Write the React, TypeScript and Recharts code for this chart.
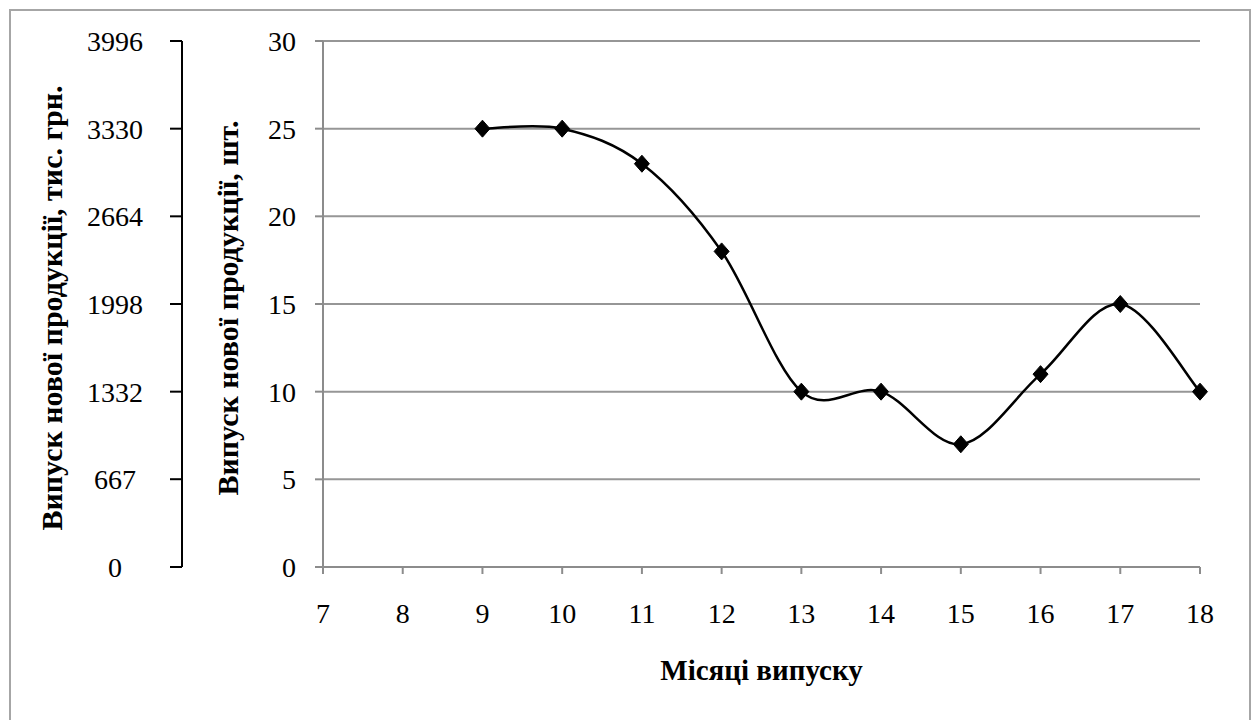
import React from 'react';
import { ComposedChart, Line, XAxis, YAxis, CartesianGrid } from 'recharts';

const months = [9, 10, 11, 12, 13, 14, 15, 16, 17, 18];
const units = [25, 25, 23, 18, 10, 10, 7, 11, 15, 10];
const xTicks = [7, 8, 9, 10, 11, 12, 13, 14, 15, 16, 17, 18];
const qtyTicks = [0, 5, 10, 15, 20, 25, 30];
const moneyTicks = [0, 667, 1332, 1998, 2664, 3330, 3996];
const xTitle = 'Місяці випуску';
const qtyTitle = 'Випуск нової продукції, шт.';
const moneyTitle = 'Випуск нової продукції, тис. грн.';

const data = months.map((m, i) => ({ month: m, units: units[i] }));

const FONT = '"Liberation Serif", "Times New Roman", serif';
const FS = 28;

// Excel-like smoothed line (cubic Bezier, 1/6 neighbour tangents)
function excelCurve(context: any) {
  let pts: number[][] = [];
  return {
    areaStart() {},
    areaEnd() {},
    lineStart() {
      pts = [];
    },
    point(x: number, y: number) {
      pts.push([+x, +y]);
    },
    lineEnd() {
      if (!pts.length) return;
      context.moveTo(pts[0][0], pts[0][1]);
      for (let i = 0; i < pts.length - 1; i++) {
        const p0 = pts[i - 1] || pts[i];
        const p1 = pts[i];
        const p2 = pts[i + 1];
        const p3 = pts[i + 2] || p2;
        context.bezierCurveTo(
          p1[0] + (p2[0] - p0[0]) / 6,
          p1[1] + (p2[1] - p0[1]) / 6,
          p2[0] - (p3[0] - p1[0]) / 6,
          p2[1] - (p3[1] - p1[1]) / 6,
          p2[0],
          p2[1]
        );
      }
    },
  };
}

const Diamond = (props: any) => {
  const { cx, cy, index } = props;
  if (cx == null || cy == null) return <g key={`d-${index}`} />;
  return (
    <path
      key={`d-${index}`}
      d={`M${cx},${cy - 8.5} L${cx + 7.5},${cy} L${cx},${cy + 8.5} L${cx - 7.5},${cy} Z`}
      fill="#000"
      stroke="#000"
      strokeWidth={1}
    />
  );
};

const XTick = (props: any) => {
  const { x, y, payload } = props;
  return (
    <text x={x} y={y} dy={20} textAnchor="middle" fontFamily={FONT} fontSize={FS} fill="#000">
      {payload.value}
    </text>
  );
};

const QtyTick = (props: any) => {
  const { x, y, payload } = props;
  return (
    <text x={x} y={y} dy={10} textAnchor="end" fontFamily={FONT} fontSize={FS} fill="#000">
      {payload.value}
    </text>
  );
};

const MoneyTick = (props: any) => {
  const { x, y, payload } = props;
  return (
    <text x={x} y={y} dy={10} textAnchor="middle" fontFamily={FONT} fontSize={FS} fill="#000">
      {payload.value}
    </text>
  );
};

const RotLabel = (text: string, baseX: number) => (props: any) => {
  const vb = props.viewBox || {};
  const cx = vb.x + baseX;
  const cy = vb.y + vb.height / 2 + 4;
  return (
    <text
      transform={`translate(${cx},${cy}) rotate(-90)`}
      x={0}
      y={0}
      textAnchor="middle"
      fontFamily={FONT}
      fontSize={30}
      fontWeight="bold"
      fill="#000"
    >
      {text}
    </text>
  );
};

const XLabel = (props: any) => {
  const vb = props.viewBox || {};
  return (
    <text
      x={vb.x + vb.width / 2}
      y={vb.y + 113}
      textAnchor="middle"
      fontFamily={FONT}
      fontSize={29}
      fontWeight="bold"
      fill="#000"
    >
      {xTitle}
    </text>
  );
};

export default function App() {
  return (
    <div style={{ position: 'absolute', left: 0, top: 0, width: 1254, height: 720, background: '#fff', overflow: 'hidden' }}>
      <div
        style={{
          position: 'absolute',
          left: 9,
          top: 9,
          width: 1238,
          height: 740,
          border: '2px solid #a6a6a6',
        }}
      />
      <div style={{ position: 'absolute', left: 0, top: 0 }}>
        <ComposedChart width={1254} height={720} data={data} margin={{ top: 41, right: 54, left: 0, bottom: 0 }}>
          <CartesianGrid yAxisId="a_qty" vertical={false} stroke="#969696" strokeWidth={2} />
          <XAxis
            dataKey="month"
            type="number"
            domain={[7, 18]}
            ticks={xTicks}
            interval={0}
            height={153}
            stroke="#8c8c8c"
            strokeWidth={2}
            tickSize={7}
            tickMargin={29}
            tick={<XTick />}
            label={<XLabel />}
          />
          <YAxis
            yAxisId="a_qty"
            orientation="left"
            width={141}
            type="number"
            domain={[0, 30]}
            ticks={qtyTicks}
            interval={0}
            stroke="#8c8c8c"
            strokeWidth={2}
            tickSize={8}
            tickMargin={19}
            tick={<QtyTick />}
            label={RotLabel(qtyTitle, 56)}
          />
          <YAxis
            yAxisId="b_money"
            orientation="left"
            width={182}
            type="number"
            domain={[0, 3996]}
            allowDataOverflow={true}
            ticks={moneyTicks}
            interval={0}
            stroke="#000"
            strokeWidth={2}
            tickSize={12}
            tickMargin={55}
            tick={<MoneyTick />}
            label={RotLabel(moneyTitle, 62)}
          />
          <Line
            yAxisId="a_qty"
            dataKey="units"
            type={excelCurve as any}
            stroke="#000"
            strokeWidth={2.5}
            dot={Diamond}
            activeDot={false}
            isAnimationActive={false}
          />
        </ComposedChart>
      </div>
    </div>
  );
}
